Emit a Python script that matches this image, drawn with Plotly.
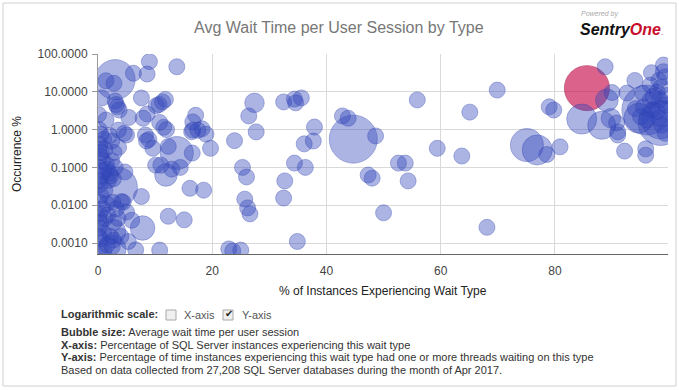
import numpy as np
import plotly.graph_objects as go

# ---------------- data ----------------
# x: % of instances experiencing the wait type
pct_instances = [
    # upper-left group
    3.0, 1.4, 2.8, 6.2, 9.0, 8.6, 13.8, 0.7, 3.0, 3.4, 3.7, 3.2, 7.6, 10.2, 10.7, 11.3, 11.8, 5.4, 8.6, 7.9,
    0.1, 1.4, 10.8, 11.5, 12.0, 3.6, 4.6, 5.0, 8.3, 8.9, 8.5,
    # mid-left group
    13.8, 12.3, 9.6, 3.6, 16.5, 11.9, 10.1, 11.0, 14.4, 12.9, 16.1, 7.6, 3.4, 4.1, 12.3, 15.1, 7.8, 2.7, 6.6, 10.8,
    5.3, 2.7, 4.7, 2.2, 2.7, 2.0, 4.4, 5.0, 5.9, 16.6, 17.1, 16.6, 16.4, 17.5, 18.2, 18.9, 19.7,
    # left edge cluster
    0.2, 0.5, 1.0, 0.3, 1.2, 0.4, 0.8, 1.5, 0.2, 1.0, 0.6, 1.8, 0.3, 1.2, 0.5, 0.2, 1.5, 0.8, 0.3, 1.2,
    0.5, 0.2, 1.0, 0.4, 1.6, 0.3, 1.0, 2.5, 2.2, 0.6, 2.0, 2.4, 2.8, 2.4, 1.6, 3.0, 2.6, 3.2, 1.7, 2.8,
    0.1, 0.1, 0.1, 0.1, 3.5, 4.0, 2.5,
    # middle
    27.4, 26.4, 27.7, 23.9, 32.5, 34.4, 35.6, 34.6, 37.9, 37.7, 36.1, 25.3, 26.0, 18.5, 25.7, 26.2, 26.6, 32.5, 32.7, 34.4,
    36.3, 22.9, 23.6, 25.0, 34.9, 44.7, 42.8, 43.8, 48.6, 47.3, 48.0, 50.0, 52.6, 53.8, 54.3, 55.9, 59.4, 63.7, 65.1, 69.9,
    68.1, 75.1, 76.9, 78.6, 80.9, 79.0, 79.8,
    # right cluster
    84.7, 88.2, 88.8, 89.1, 90.0, 89.8, 90.8, 91.0, 91.0, 92.6, 92.2, 95.9, 95.9, 94.0, 96.9, 98.2, 99.0, 99.0, 98.6, 96.7,
    97.9, 95.4, 96.7, 98.2, 95.5, 97.0, 97.9, 94.1, 95.0, 96.1, 98.2, 98.7, 99.3, 96.1, 94.7, 98.5, 99.3, 99.5, 99.5, 97.2,
    98.5,
]
# y: occurrence %
occurrence_pct = [
    21, 19.6, 16.8, 31, 63, 29.5, 46, 6.9, 5.7, 4.0, 3.3, 4.6, 6.9, 4.3, 4.6, 5.4, 6.3, 2.1, 2.6, 2.0,
    2.5, 1.8, 1.55, 1.15, 1.0, 0.97, 0.8, 0.72, 0.72, 0.55, 0.5,
    0.24, 0.36, 0.32, 0.34, 0.24, 0.063, 0.115, 0.115, 0.10, 0.09, 0.028, 0.017, 0.03, 0.0125, 0.0051, 0.0041, 0.0025, 0.002, 0.00066, 0.00065,
    0.0011, 0.0012, 0.076, 0.06, 0.05, 0.07, 0.012, 0.0066, 0.004, 1.6, 2.4, 0.98, 0.88, 0.96, 1.05, 0.76, 0.32,
    1.0, 0.75, 0.55, 0.4, 0.3, 0.2, 0.15, 0.12, 0.1, 0.08, 0.06, 0.045, 0.035, 0.025, 0.018, 0.012, 0.011, 0.008, 0.006, 0.0045,
    0.0035, 0.0025, 0.0018, 0.0013, 0.0009, 0.0007, 0.0006, 0.0008, 0.0015, 0.25, 0.7, 0.5, 0.25, 0.15, 0.09, 0.1, 0.012, 0.008, 0.0055, 0.0035,
    0.045, 0.3, 0.0045, 0.0015, 0.0045, 0.0015, 0.0007,
    5.1, 2.3, 0.87, 0.51, 5.4, 6.4, 6.9, 5.1, 1.17, 0.5, 0.42, 0.10, 0.056, 0.025, 0.0145, 0.0085, 0.0059, 0.0155, 0.044, 0.13,
    0.10, 0.0007, 0.00062, 0.00065, 0.0011, 0.56, 2.3, 2.0, 0.68, 0.063, 0.052, 0.0063, 0.13, 0.13, 0.044, 6.1, 0.32, 0.20, 2.9, 11.1,
    0.0026, 0.39, 0.29, 0.22, 0.35, 4.0, 3.3,
    1.9, 1.3, 46, 6.0, 9.6, 2.0, 1.5, 0.87, 0.72, 9.3, 0.27, 0.31, 0.21, 20, 32, 20, 51, 34, 13.5, 15,
    10, 9.1, 6.1, 6.1, 4.0, 3.3, 3.0, 3.6, 2.2, 1.8, 2.0, 1.3, 0.8, 3.3, 2.0, 1.8, 25, 8, 4.5, 7.5,
    1.5,
]
# bubble size: average wait time per user session (ms, estimated)
avg_wait_ms = [
    800, 195, 195, 195, 210, 195, 180, 180, 195, 210, 195, 180, 195, 180, 195, 180, 195, 195, 195, 195,
    195, 195, 180, 195, 180, 195, 195, 210, 210, 230, 180,
    660, 300, 195, 195, 195, 450, 195, 195, 195, 180, 180, 195, 800, 240, 180, 180, 490, 490, 180, 180,
    180, 195, 210, 195, 240, 195, 195, 195, 180, 180, 195, 180, 180, 180, 195, 195, 210,
    210, 195, 210, 195, 195, 210, 195, 230, 210, 195, 210, 260, 195, 210, 195, 210, 195, 195, 210, 195,
    195, 210, 195, 195, 180, 195, 210, 195, 210, 195, 195, 210, 195, 230, 210, 195, 210, 195, 195, 195,
    195, 195, 195, 195, 195, 180, 550,
    390, 240, 180, 180, 180, 195, 195, 180, 180, 180, 180, 180, 180, 180, 240, 180, 210, 180, 180, 180,
    180, 180, 180, 180, 180, 960, 180, 180, 180, 180, 180, 180, 180, 195, 180, 180, 180, 180, 195, 180,
    180, 660, 600, 290, 180, 290, 180,
    600, 560, 180, 450, 180, 390, 195, 180, 180, 180, 240, 240, 180, 180, 180, 180, 180, 180, 195, 180,
    195, 195, 210, 195, 260, 210, 195, 290, 210, 195, 195, 210, 210, 1000, 600, 760, 195, 195, 195, 180,
    900,
]
# highlighted wait type (drawn in red)
highlight_x = [85.6]
highlight_y = [12.5]
highlight_wait_ms = [900]

y_tick_vals = [0.001, 0.01, 0.1, 1, 10, 100]
y_tick_text = ["0.0010", "0.0100", "0.1000", "1.0000", "10.0000", "100.0000"]
x_tick_vals = [0, 20, 40, 60, 80]

# ---------------- build ----------------
BLUE_FILL = "rgba(52,72,188,0.58)"
BLUE_LINE = "rgba(45,62,175,0.7)"
RED_FILL = "rgba(200,16,78,0.93)"
RED_LINE = "rgba(165,10,60,1)"

xs = np.array(pct_instances + highlight_x, dtype=float)
ys = np.array(occurrence_pct + highlight_y, dtype=float)
ws = np.array(avg_wait_ms + highlight_wait_ms, dtype=float)
is_hl = np.array([False] * len(pct_instances) + [True] * len(highlight_x))
order = np.argsort(-ws, kind="stable")  # largest bubbles drawn first

fills = np.where(is_hl, RED_FILL, BLUE_FILL)[order]
lines = np.where(is_hl, RED_LINE, BLUE_LINE)[order]

fig = go.Figure(go.Scatter(
    x=xs[order], y=ys[order], mode="markers",
    marker=dict(size=ws[order], sizemode="diameter", sizeref=20, sizemin=8,
                color=list(fills), line=dict(color=list(lines), width=0.8)),
    cliponaxis=True, hoverinfo="skip", showlegend=False,
))

W, H = 679, 390
L, R, T, B = 98, 11, 54, 136
PW, PH = W - L - R, H - T - B


def px(x):
    return (x - L) / PW


def py(y):
    return (H - B - y) / PH


FONT = "Arial, Liberation Sans, sans-serif"

fig.update_layout(
    width=W, height=H, margin=dict(l=L, r=R, t=T, b=B),
    paper_bgcolor="white", plot_bgcolor="white",
    font=dict(family=FONT, size=12, color="#444"),
    xaxis=dict(range=[0, 99.8], tickvals=x_tick_vals, showgrid=True, gridcolor="#d9d9d9", gridwidth=1,
               zeroline=False, showline=True, linecolor="#666", linewidth=1, ticks="",
               tickfont=dict(size=12, color="#444"), ticklabelstandoff=6, fixedrange=True),
    yaxis=dict(type="log", range=[-3.29, 2.0], tickvals=y_tick_vals, ticktext=y_tick_text,
               showgrid=True, gridcolor="#d9d9d9", gridwidth=1, zeroline=False,
               showline=True, linecolor="#999", linewidth=1, ticks="outside", ticklen=5, tickcolor="#999",
               tickfont=dict(size=12, color="#444"), ticklabelstandoff=2, fixedrange=True),
)

ann = []
# title
ann.append(dict(text="Avg Wait Time per User Session by Type", x=px(339), y=py(27), xref="paper", yref="paper",
                xanchor="center", yanchor="middle", showarrow=False, font=dict(size=16, color="#777", family=FONT)))
# logo
ann.append(dict(text="<i>Powered by</i>", x=px(579), y=py(14), xref="paper", yref="paper",
                xanchor="left", yanchor="middle", showarrow=False, font=dict(size=7, color="#aaa", family=FONT)))
ann.append(dict(text="<b><i>Sentry<span style='color:#c8102e'>One</span></i></b><span style='color:#c8102e;font-size:8px'>.</span>",
                x=px(578), y=py(29), xref="paper", yref="paper", xanchor="left", yanchor="middle",
                showarrow=False, font=dict(size=16, color="#111", family=FONT)))
# axis titles
ann.append(dict(text="Occurrence %", x=px(17), y=py(154), xref="paper", yref="paper", textangle=-90,
                xanchor="center", yanchor="middle", showarrow=False, font=dict(size=12, color="#222", family=FONT)))
ann.append(dict(text="% of Instances Experiencing Wait Type", x=px(383), y=py(291), xref="paper", yref="paper",
                xanchor="center", yanchor="middle", showarrow=False, font=dict(size=12, color="#222", family=FONT)))
# log scale controls
ann.append(dict(text="<b>Logarithmic scale:</b>", x=px(59), y=py(314), xref="paper", yref="paper",
                xanchor="left", yanchor="middle", showarrow=False, font=dict(size=11, color="#333", family=FONT)))
ann.append(dict(text="X-axis", x=px(182), y=py(315), xref="paper", yref="paper",
                xanchor="left", yanchor="middle", showarrow=False, font=dict(size=11, color="#555", family=FONT)))
ann.append(dict(text="Y-axis", x=px(240), y=py(315), xref="paper", yref="paper",
                xanchor="left", yanchor="middle", showarrow=False, font=dict(size=11, color="#555", family=FONT)))
ann.append(dict(text="✔", x=px(228.5), y=py(313), xref="paper", yref="paper",
                xanchor="center", yanchor="middle", showarrow=False, font=dict(size=10, color="#222", family="DejaVu Sans")))
# notes
notes = [
    "<b>Bubble size:</b> Average wait time per user session",
    "<b>X-axis:</b> Percentage of SQL Server instances experiencing this wait type",
    "<b>Y-axis:</b> Percentage of time instances experiencing this wait type had one or more threads waiting on this type",
    "Based on data collected from 27,208 SQL Server databases during the month of Apr 2017.",
]
for i, t in enumerate(notes):
    ann.append(dict(text=t, x=px(59), y=py(332 + i * 12.5), xref="paper", yref="paper",
                    xanchor="left", yanchor="middle", showarrow=False, font=dict(size=11, color="#333", family=FONT)))
fig.update_layout(annotations=ann)

shapes = [
    # outer border
    dict(type="rect", xref="paper", yref="paper", x0=px(3), x1=px(676), y0=py(386), y1=py(3),
         line=dict(color="#d0d0d0", width=1), fillcolor="rgba(0,0,0,0)", layer="below"),
    # checkboxes
    dict(type="rect", xref="paper", yref="paper", x0=px(166), x1=px(176), y0=py(320), y1=py(310),
         line=dict(color="#a8a8a8", width=1), fillcolor="#f0f0f0"),
    dict(type="rect", xref="paper", yref="paper", x0=px(223), x1=px(233), y0=py(320), y1=py(310),
         line=dict(color="#a8a8a8", width=1), fillcolor="#f0f0f0"),
]
fig.update_layout(shapes=shapes)

fig.write_html("out.html", config={"displayModeBar": False},
               post_script="document.body.style.margin='0';document.body.style.overflow='hidden';")
